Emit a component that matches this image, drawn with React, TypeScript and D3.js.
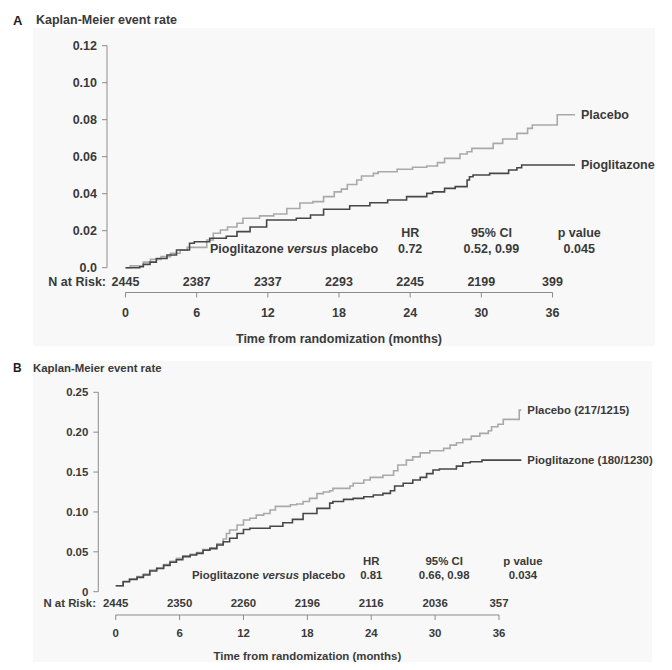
import React from "react";
import * as d3 from "d3";

// ---------- Panel A data ----------
const placeboA: [number, number][] = [
  [0, 0], [0.4, 0.001], [1.5, 0.003], [2.1, 0.0045], [3.0, 0.006], [3.8, 0.0078],
  [4.6, 0.0095], [5.2, 0.011], [6.85, 0.015], [7.4, 0.0186], [8.0, 0.0204], [8.6, 0.022],
  [9.4, 0.024], [9.9, 0.0267], [11.3, 0.028], [12.5, 0.029], [13.6, 0.032], [14.7, 0.035],
  [15.8, 0.0357], [16.7, 0.0384], [17.6, 0.041], [18.2, 0.0425], [18.7, 0.045], [19.5, 0.0474],
  [19.9, 0.0496], [20.9, 0.051], [21.3, 0.0519], [22.9, 0.0532], [24.2, 0.0543], [25.4, 0.055],
  [26.3, 0.0568], [26.9, 0.0591], [28.2, 0.0615], [28.8, 0.0627], [29.2, 0.0645], [31.0, 0.0672],
  [31.8, 0.0696], [33.0, 0.0726], [33.9, 0.0753], [34.3, 0.0771], [36.4, 0.0827], [37.9, 0.0827],
];
const pioA: [number, number][] = [
  [0, 0], [1.2, 0.0005], [1.5, 0.0018], [2.07, 0.003], [2.6, 0.005], [3.5, 0.0069],
  [4.3, 0.0096], [5.4, 0.0132], [5.8, 0.014], [7.1, 0.0159], [8.5, 0.017], [9.4, 0.0195],
  [10.5, 0.022], [11.9, 0.0258], [14.4, 0.0267], [15.6, 0.0285], [16.7, 0.0316], [18.9, 0.0335],
  [20.6, 0.0351], [22.1, 0.0366], [23.7, 0.0384], [25.4, 0.0402], [25.9, 0.041], [26.9, 0.0429],
  [27.8, 0.0438], [28.8, 0.0474], [29.0, 0.0492], [29.3, 0.0501], [30.7, 0.051], [32.3, 0.0528],
  [33.0, 0.054], [33.4, 0.0555], [37.9, 0.0555],
];
const yTicksA = [0, 0.02, 0.04, 0.06, 0.08, 0.1, 0.12];
const yTickLabelsA = ["0.0", "0.02", "0.04", "0.06", "0.08", "0.10", "0.12"];
const atRiskA = [2445, 2387, 2337, 2293, 2245, 2199, 399];
const labelsA = ["Placebo", "Pioglitazone"];
const statsA = ["0.72", "0.52, 0.99", "0.045"];

// ---------- Panel B data ----------
const placeboB: [number, number][] = [
  [0, 0.0075], [0.7, 0.013], [1.3, 0.016], [2.0, 0.019], [2.6, 0.022], [3.2, 0.027],
  [3.85, 0.03], [4.5, 0.034], [5.1, 0.038], [5.7, 0.042], [6.3, 0.045], [7.0, 0.047],
  [7.6, 0.049], [8.2, 0.053], [8.85, 0.055], [9.5, 0.06], [10.1, 0.066], [10.4, 0.073],
  [10.7, 0.0773], [11.4, 0.0836], [12.0, 0.0899], [12.6, 0.092], [13.2, 0.096], [13.9, 0.098],
  [14.5, 0.1024], [15.0, 0.107], [16.4, 0.109], [17.0, 0.11], [17.6, 0.113], [18.2, 0.117],
  [18.9, 0.123], [19.5, 0.125], [20.1, 0.1266], [20.4, 0.1296], [22.0, 0.1325], [22.3, 0.136],
  [23.3, 0.14], [23.9, 0.1433], [25.1, 0.146], [26.1, 0.1516], [26.5, 0.1588], [27.3, 0.165],
  [27.9, 0.169], [28.6, 0.174], [29.5, 0.1767], [30.8, 0.1797], [31.4, 0.1838], [32.0, 0.1867],
  [32.6, 0.191], [33.4, 0.195], [34.2, 0.1985], [35.0, 0.2018], [35.3, 0.2068], [35.9, 0.21],
  [36.4, 0.216], [37.9, 0.2277], [38.1, 0.2277],
];
const pioB: [number, number][] = [
  [0, 0.0075], [0.7, 0.0125], [1.3, 0.0155], [2.0, 0.018], [2.6, 0.021], [3.2, 0.026],
  [3.85, 0.029], [4.5, 0.033], [5.1, 0.037], [5.7, 0.04], [6.3, 0.044], [7.0, 0.046],
  [7.6, 0.048], [8.2, 0.052], [8.85, 0.054], [9.5, 0.0585], [10.1, 0.0627], [10.7, 0.067],
  [11.4, 0.073], [12.0, 0.078], [12.6, 0.0795], [14.5, 0.082], [15.7, 0.0865], [16.6, 0.0907],
  [17.6, 0.098], [18.9, 0.1045], [20.1, 0.111], [20.4, 0.113], [21.4, 0.1158], [22.3, 0.117],
  [23.3, 0.119], [24.2, 0.1212], [25.1, 0.1233], [25.8, 0.1266], [26.2, 0.1325], [27.0, 0.136],
  [27.9, 0.14], [28.6, 0.1433], [29.2, 0.148], [29.8, 0.1525], [30.4, 0.1538], [32.0, 0.1575],
  [32.6, 0.1617], [33.3, 0.163], [34.4, 0.165], [38.1, 0.165],
];
const yTicksB = [0, 0.05, 0.1, 0.15, 0.2, 0.25];
const yTickLabelsB = ["0", "0.05", "0.10", "0.15", "0.20", "0.25"];
const atRiskB = [2445, 2350, 2260, 2196, 2116, 2036, 357];
const labelsB = ["Placebo (217/1215)", "Pioglitazone (180/1230)"];
const statsB = ["0.81", "0.66, 0.98", "0.034"];

const xTicks = [0, 6, 12, 18, 24, 30, 36];
const statHeaders = ["HR", "95% CI", "p value"];
const statPos = [24, 30.85, 38.25];

const FONT = "'Liberation Sans', Arial, sans-serif";
const TXT = "#3a3a3a";
const AXIS = "#8c8c8c";
const PLACEBO_C = "#a9a9a9";
const PIO_C = "#474747";

type PanelProps = {
  letter: string;
  bg: [number, number, number, number];
  x0: number; x36: number;
  yTop: number; yZero: number; yMax: number;
  yAxisX: number; xAxisY: number; riskY: number; riskLabelX: number;
  titleY: number; xTitleY: number; tickLabelY: number;
  statsStartX: number; statsHeadY: number; statsValY: number;
  fs: number;
  placebo: [number, number][]; pio: [number, number][];
  yTicks: number[]; yTickLabels: string[]; atRisk: number[];
  labels: string[]; stats: string[];
};

function Panel(p: PanelProps) {
  const x = d3.scaleLinear().domain([0, 36]).range([p.x0, p.x36]);
  const y = d3.scaleLinear().domain([0, p.yMax]).range([p.yZero, p.yTop]);
  const line = d3.line<[number, number]>().x(d => x(d[0])).y(d => y(d[1])).curve(d3.curveStepAfter);
  const lastP = p.placebo[p.placebo.length - 1];
  const lastQ = p.pio[p.pio.length - 1];
  const t = { fontFamily: FONT, fontWeight: 700, fontSize: p.fs, fill: TXT } as const;
  return (
    <g>
      <rect x={p.bg[0]} y={p.bg[1]} width={p.bg[2]} height={p.bg[3]} fill="#f8f8f8" />
      <text x={13} y={p.titleY} dy="0.35em" style={{ ...t, fill: "#1e1e1e", fontSize: p.fs + 0.5 }}>{p.letter}</text>
      <text x={p.letter === "A" ? 36 : 33} y={p.titleY} dy="0.35em" style={t}>Kaplan-Meier event rate</text>
      {/* y axis */}
      <line x1={p.yAxisX} x2={p.yAxisX} y1={y(p.yMax)} y2={y(0)} stroke={AXIS} strokeWidth={1} />
      {p.yTicks.map((v, i) => (
        <g key={i}>
          <line x1={p.yAxisX - 5} x2={p.yAxisX} y1={y(v)} y2={y(v)} stroke={AXIS} strokeWidth={1} />
          <text x={p.yAxisX - 10} y={y(v)} dy="0.35em" textAnchor="end" style={t}>{p.yTickLabels[i]}</text>
        </g>
      ))}
      {/* curves */}
      <path d={line(p.placebo) || ""} fill="none" stroke={PLACEBO_C} strokeWidth={1.6} />
      <path d={line(p.pio) || ""} fill="none" stroke={PIO_C} strokeWidth={1.6} />
      <text x={x(lastP[0]) + 6} y={y(lastP[1])} dy="0.35em" style={t}>{p.labels[0]}</text>
      <text x={x(lastQ[0]) + 6} y={y(lastQ[1])} dy="0.35em" style={t}>{p.labels[1]}</text>
      {/* stats */}
      <text x={p.statsStartX} y={p.statsValY} dy="0.35em" style={t}>
        Pioglitazone <tspan fontStyle="italic">versus</tspan> placebo
      </text>
      {statHeaders.map((h, i) => (
        <g key={h}>
          <text x={x(statPos[i])} y={p.statsHeadY} dy="0.35em" textAnchor="middle" style={t}>{h}</text>
          <text x={x(statPos[i])} y={p.statsValY} dy="0.35em" textAnchor="middle" style={t}>{p.stats[i]}</text>
        </g>
      ))}
      {/* at risk */}
      <text x={p.riskLabelX} y={p.riskY} dy="0.35em" textAnchor="end" style={t}>N at Risk:</text>
      {xTicks.map((v, i) => (
        <text key={v} x={x(v)} y={p.riskY} dy="0.35em" textAnchor="middle" style={t}>{p.atRisk[i]}</text>
      ))}
      {/* x axis */}
      <line x1={x(0)} x2={x(36)} y1={p.xAxisY} y2={p.xAxisY} stroke={AXIS} strokeWidth={1} />
      {xTicks.map(v => (
        <g key={v}>
          <line x1={x(v)} x2={x(v)} y1={p.xAxisY} y2={p.xAxisY + 5} stroke={AXIS} strokeWidth={1} />
          <text x={x(v)} y={p.tickLabelY} dy="0.35em" textAnchor="middle" style={t}>{v}</text>
        </g>
      ))}
      <text x={x(18)} y={p.xTitleY} dy="0.35em" textAnchor="middle" style={t}>Time from randomization (months)</text>
    </g>
  );
}

export default function App() {
  return (
    <svg width={672} height={670} style={{ position: "absolute", left: 0, top: 0, background: "#fff" }}>
      <Panel
        letter="A" bg={[33, 28, 622, 318]}
        x0={125.5} x36={552.5} yTop={45.7} yZero={267.7} yMax={0.12}
        yAxisX={107} xAxisY={292.5} riskY={282} riskLabelX={106} titleY={20} xTitleY={339} tickLabelY={313}
        statsStartX={210} statsHeadY={233} statsValY={249} fs={12.5}
        placebo={placeboA} pio={pioA} yTicks={yTicksA} yTickLabels={yTickLabelsA}
        atRisk={atRiskA} labels={labelsA} stats={statsA}
      />
      <Panel
        letter="B" bg={[33, 361, 619, 301]}
        x0={115.7} x36={499} yTop={392.3} yZero={591.7} yMax={0.25}
        yAxisX={98.3} xAxisY={615} riskY={603.3} riskLabelX={96} titleY={368} xTitleY={656} tickLabelY={633.3}
        statsStartX={192} statsHeadY={561} statsValY={575} fs={11.4}
        placebo={placeboB} pio={pioB} yTicks={yTicksB} yTickLabels={yTickLabelsB}
        atRisk={atRiskB} labels={labelsB} stats={statsB}
      />
    </svg>
  );
}
